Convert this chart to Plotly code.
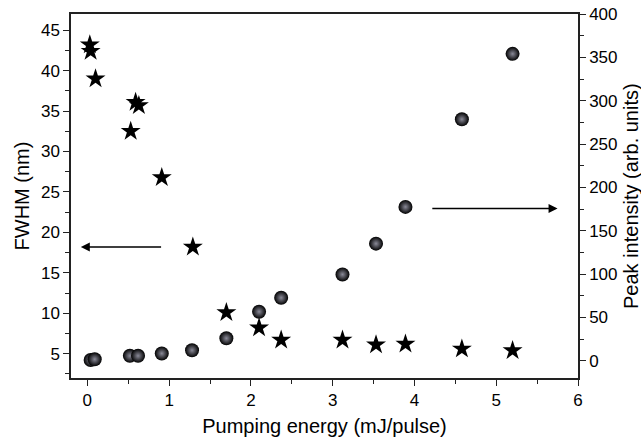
import plotly.graph_objects as go

# FWHM (stars, left axis)
fwhm_x = [0.03, 0.04, 0.10, 0.53, 0.59, 0.63, 0.91, 1.29, 1.70, 2.10, 2.37, 3.12, 3.53, 3.89, 4.58, 5.20]
fwhm_y = [43.2, 42.4, 39.0, 32.5, 36.1, 35.7, 26.8, 18.2, 10.1, 8.2, 6.7, 6.7, 6.1, 6.2, 5.6, 5.4]

# Peak intensity (spheres, right axis)
peak_x = [0.04, 0.09, 0.52, 0.62, 0.91, 1.28, 1.70, 2.10, 2.37, 3.12, 3.53, 3.89, 4.58, 5.20]
peak_y = [0.8, 1.6, 5.6, 5.6, 8.3, 12.0, 25.8, 56.5, 72.6, 99.5, 135.0, 177.4, 278.5, 354.0]

# arrow annotations: [head, tail] in data units
left_arrow_x = [-0.08, 0.92]
left_arrow_y = 18.2
right_arrow_x = [5.75, 4.2]
right_arrow_y = 175.6

FONT = "Liberation Sans, Arial, sans-serif"
LINE = "#222"

fig = go.Figure()
fig.add_trace(go.Scatter(
    x=fwhm_x, y=fwhm_y, mode="markers", name="FWHM",
    marker=dict(symbol="star", size=15, color="black", line=dict(width=0)),
    yaxis="y"))
fig.add_trace(go.Scatter(
    x=peak_x, y=peak_y, mode="markers", name="Peak intensity",
    marker=dict(symbol="circle", size=14, color="#000000",
                gradient=dict(type="radial", color="#8a8a98"),
                line=dict(width=0)),
    yaxis="y2"))

fig.add_annotation(x=left_arrow_x[0], y=left_arrow_y, ax=left_arrow_x[1], ay=left_arrow_y,
                   xref="x", yref="y", axref="x", ayref="y", showarrow=True, text="",
                   arrowhead=2, arrowsize=1.2, arrowwidth=1.5, arrowcolor="black")
fig.add_annotation(x=right_arrow_x[0], y=right_arrow_y, ax=right_arrow_x[1], ay=right_arrow_y,
                   xref="x", yref="y2", axref="x", ayref="y2", showarrow=True, text="",
                   arrowhead=2, arrowsize=1.2, arrowwidth=1.5, arrowcolor="black")

tickfont = dict(family=FONT, size=17, color="black")
titlefont = dict(family=FONT, size=20, color="black")

# right axis title placed as annotation so it stays inside the page
fig.add_annotation(text="Peak intensity (arb. units)", xref="paper", yref="paper",
                   x=1.0, xshift=53, y=0.5, textangle=-90, showarrow=False,
                   xanchor="center", yanchor="middle", font=titlefont)

fig.update_layout(
    width=641, height=439,
    margin=dict(l=71, r=63, t=14, b=61, autoexpand=False),
    paper_bgcolor="white", plot_bgcolor="white",
    showlegend=False,
    xaxis=dict(range=[-0.2, 6], dtick=1, tick0=0, showgrid=False, zeroline=False,
               automargin=False,
               showline=True, linecolor=LINE, linewidth=1.5, mirror=True,
               ticks="outside", ticklen=6, tickwidth=1.3, tickcolor=LINE,
               minor=dict(ticks="outside", ticklen=4, dtick=0.5, tickcolor=LINE, tickwidth=1.3),
               tickfont=tickfont,
               title=dict(text="Pumping energy (mJ/pulse)", font=titlefont, standoff=10)),
    yaxis=dict(range=[2, 47], dtick=5, tick0=0, showgrid=False, zeroline=False,
               automargin=False,
               showline=True, linecolor=LINE, linewidth=1.5,
               ticks="outside", ticklen=6, tickwidth=1.3, tickcolor=LINE,
               minor=dict(ticks="outside", ticklen=4, dtick=2.5, tickcolor=LINE, tickwidth=1.3),
               tickfont=tickfont,
               title=dict(text="FWHM (nm)", font=titlefont, standoff=6)),
    yaxis2=dict(range=[-20, 400], dtick=50, tick0=0, showgrid=False, zeroline=False,
                automargin=False,
                overlaying="y", side="right",
                showline=True, linecolor=LINE, linewidth=1.5,
                ticks="outside", ticklen=6, tickwidth=1.3, tickcolor=LINE,
                minor=dict(ticks="outside", ticklen=4, dtick=25, tickcolor=LINE, tickwidth=1.3),
                tickfont=tickfont),
)

fig.write_html("out.html", config={"displayModeBar": False},
               post_script="document.body.style.margin='0';")
